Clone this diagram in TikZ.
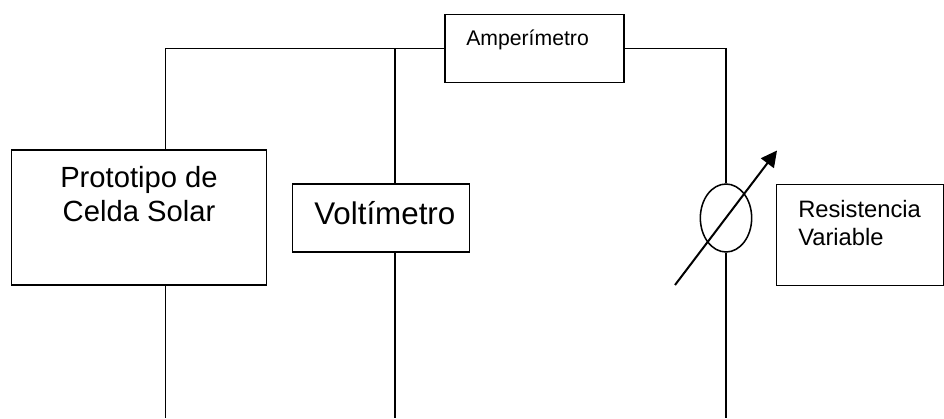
\documentclass[tikz,border=0pt]{standalone}
\usepackage{fontspec}
\setmainfont{Liberation Sans}
\usepackage{tikz}
\usetikzlibrary{arrows.meta,positioning,shapes.geometric}
\tikzstyle{block} = [draw, rectangle, line width=1.15pt, inner sep=0pt]
\tikzstyle{tag} = [inner sep=0pt, anchor=base west, align=left]
\tikzstyle{wire} = [line width=1.15pt]
\tikzstyle{terminal} = [coordinate]
\newcommand{\bigsize}{\fontsize{21.9}{26}\selectfont}
\newcommand{\voltsize}{\fontsize{23.5}{28}\selectfont}
\newcommand{\ampsize}{\fontsize{15.9}{19}\selectfont}
\newcommand{\ressize}{\fontsize{17.8}{20.5}\selectfont}

\begin{document}
\begin{tikzpicture}[x=0.75pt, y=-0.75pt, >={Triangle[length=12pt,width=12pt]}]
\useasboundingbox (0,0) rectangle (944,418);

\node [block, minimum width=134pt, minimum height=51pt] (amp) at (534.5,48.5) {};
\node [block, minimum width=191pt, minimum height=101.5pt] (proto) at (139,217.5) {};
\node [block, minimum width=133pt, minimum height=51pt] (volt) at (381,218) {};
\node [block, minimum width=125pt, minimum height=76pt] (res) at (860,235) {};
\node [draw, ellipse, line width=1.15pt, inner sep=0pt, minimum width=38.5pt, minimum height=51pt] (rvar) at (726,218) {};

% texts inside the boxes
\node [tag] (amptext) at (466,45) {\ampsize Amperímetro};
\node [tag, anchor=base, align=center] (prototext) at (139,187) {\bigsize Prototipo de};
\node [tag, anchor=base, align=center] (celdatext) at (139,221.7) {\bigsize Celda Solar};
\node [tag] (volttext) at (314,224) {\voltsize Voltímetro};
\node [tag] (restext) at (798,217.7) {\ressize Resistencia};
\node [tag] (vartext) at (798,245) {\ressize Variable};

% wiring
\node [terminal] (leftcorner) at (165.5,48.5) {};
\node [terminal] (midjoin) at (395,48.5) {};
\node [terminal] (rightcorner) at (726,48.5) {};
\node [terminal] (leftend) at (165.5,418) {};
\node [terminal] (midend) at (395,418) {};
\node [terminal] (rightend) at (726,418) {};
\node [terminal] (arrowstart) at (675,285) {};
\node [terminal] (arrowtip) at (777,150.5) {};

\draw [wire] (amp.west) -- (leftcorner) -- (leftcorner |- proto.north);
\draw [wire] (midjoin) -- (midjoin |- volt.north);
\draw [wire] (amp.east) -- (rightcorner) -- (rvar.north);
\draw [wire] (leftend |- proto.south) -- (leftend);
\draw [wire] (midend |- volt.south) -- (midend);
\draw [wire] (rvar.south) -- (rightend);
\draw [->, line width=1.5pt] (arrowstart) -- (arrowtip);
\end{tikzpicture}
\end{document}
